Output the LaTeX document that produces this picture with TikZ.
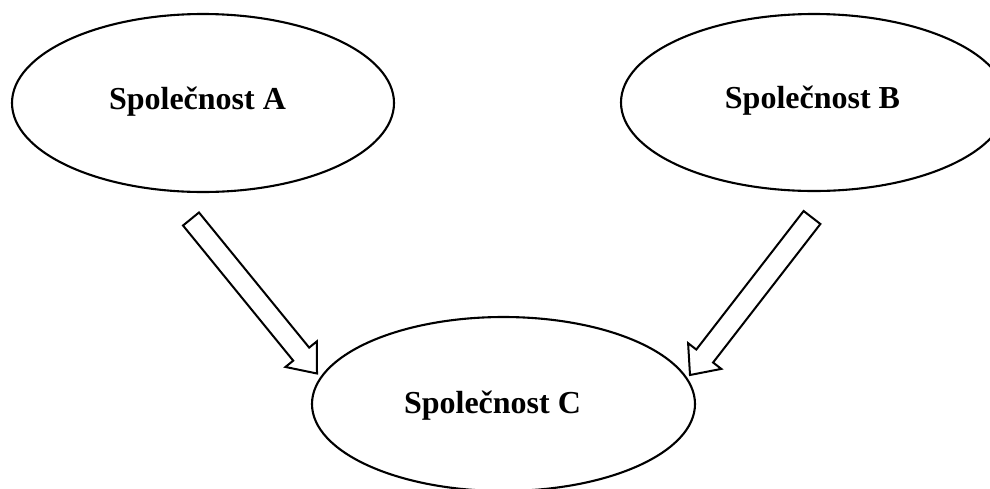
\documentclass[tikz,border=0pt]{standalone}
\usepackage{fontspec}
\setmainfont{Liberation Serif}
\usetikzlibrary{shapes.geometric,calc}
\tikzset{
  ell/.style={draw=black, line width=2.1pt, ellipse, inner sep=0pt, fill=white},
  lbl/.style={anchor=base, inner sep=0pt, font=\fontsize{32}{38}\selectfont\bfseries},
  blockarrow/.style={draw=black, line width=2pt, fill=white, line join=miter}
}
\newcommand{\blockarr}[5]{% tail, tip, shaft half-width, head half-width, head length
  \coordinate (hb) at ($(#2)!#5!(#1)$);
  \draw[blockarrow] ($(#1)!#3!90:(#2)$) -- ($(hb)!#3!90:(#2)$) -- ($(hb)!#4!90:(#2)$) -- (#2)
    -- ($(hb)!#4!-90:(#2)$) -- ($(hb)!#3!-90:(#2)$) -- ($(#1)!#3!-90:(#2)$) -- cycle;
}
\begin{document}
\begin{tikzpicture}[x=1pt,y=-1pt]
\useasboundingbox (0,0) rectangle (990,488);
\node[ell, minimum width=382pt, minimum height=178pt] (A) at (203,103) {};
\node[ell, minimum width=386pt, minimum height=177pt] (B) at (814,102.5) {};
\node[ell, minimum width=383pt, minimum height=174pt] (C) at (503.5,404) {};
\node[lbl] (tA) at (197.5,109.5) {Společnost A};
\node[lbl] (tB) at (812.5,108.5) {Společnost B};
\node[lbl] (tC) at (492.5,413.3) {Společnost C};
\coordinate (aTail) at (191,219);
\coordinate (aTip) at (317,373.5);
\coordinate (bTail) at (812,217.5);
\coordinate (bTip) at (690,375);
\blockarr{aTail}{aTip}{10.3pt}{20.3pt}{25pt}
\blockarr{bTail}{bTip}{10.6pt}{21pt}{24pt}
\end{tikzpicture}
\end{document}
